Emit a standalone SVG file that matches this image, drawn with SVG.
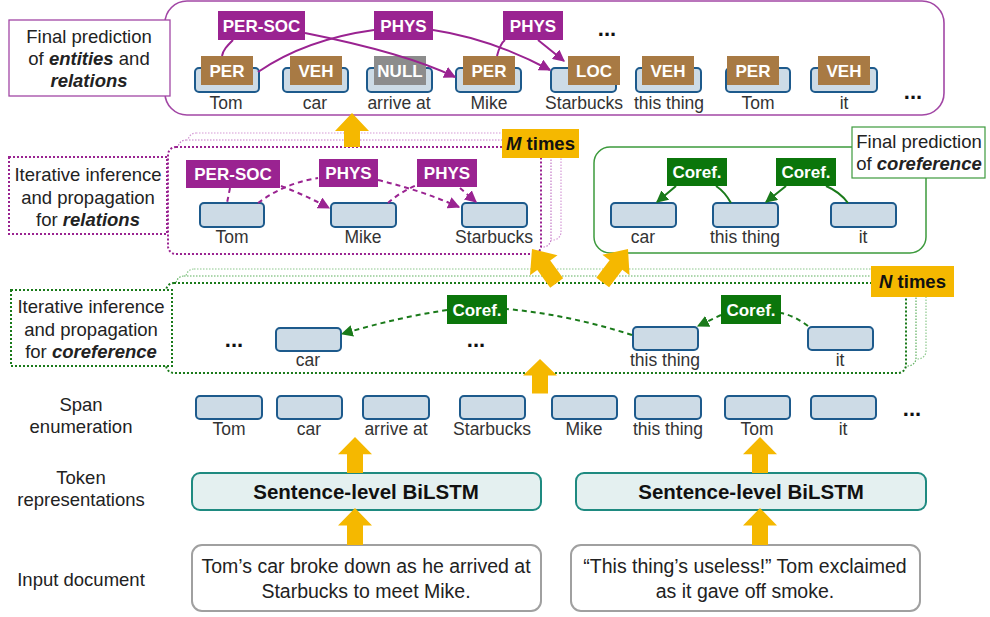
<svg xmlns="http://www.w3.org/2000/svg" width="990" height="617" viewBox="0 0 990 617">
<defs>
<style>
text{font-family:"Liberation Sans",Arial,sans-serif;fill:#222}
.lbl{font-size:18.5px;text-anchor:middle}
.sp{font-size:17.5px;text-anchor:middle;fill:#333}
.tag{font-size:17px;font-weight:bold;fill:#fff;text-anchor:middle}
.box{fill:#CDDBE6;stroke:#1D5A8C;stroke-width:2}
.rel{fill:#9A2391}
.ent{fill:#A87A44}
.cor{fill:#0B760B}
.yl{fill:#F5B800}
.dots{font-size:22px;font-weight:bold;fill:#111;text-anchor:middle}
.pl{fill:none;stroke:#9A2391;stroke-width:2}
.pd{fill:none;stroke:#9A2391;stroke-width:2;stroke-dasharray:5 4}
.gl{fill:none;stroke:#1A7A1A;stroke-width:2}
.gd{fill:none;stroke:#1A7A1A;stroke-width:2;stroke-dasharray:5 4}
.times{font-size:18.5px;font-weight:bold;text-anchor:middle;fill:#111}
.inp{font-size:19.5px;text-anchor:middle}
.bil{font-size:20.5px;font-weight:bold;text-anchor:middle;fill:#111}
</style>
<marker id="ap" viewBox="0 0 10 10" refX="9" refY="5" markerWidth="12" markerHeight="12" markerUnits="userSpaceOnUse" orient="auto"><path d="M0,0 L10,5 L0,10 Z" fill="#9A2391"/></marker>
<marker id="ag" viewBox="0 0 10 10" refX="9" refY="5" markerWidth="12" markerHeight="12" markerUnits="userSpaceOnUse" orient="auto"><path d="M0,0 L10,5 L0,10 Z" fill="#1A7A1A"/></marker>
<path id="ya" d="M0,0 L17,20 L8,20 L8,42 L-8,42 L-8,20 L-17,20 Z"/>
</defs>
<rect width="990" height="617" fill="#fff"/>

<!-- Top panel -->
<g id="top-panel">
<rect x="165" y="1" width="779" height="114" rx="22" fill="#fff" stroke="#A247A5" stroke-width="1.6"/>
</g>
<g id="top-label">
<rect x="9" y="20" width="161" height="76" fill="#fff" stroke="#A247A5" stroke-width="1.3"/>
<text class="lbl" x="89" y="43">Final prediction</text>
<text class="lbl" x="89" y="65">of <tspan font-weight="bold" font-style="italic">entities</tspan> and</text>
<text class="lbl" x="89" y="87" font-weight="bold" font-style="italic">relations</text>
</g>

<g id="top-spans">
<rect class="box" x="195" y="68" width="64" height="24" rx="4"/>
<rect class="box" x="283" y="68" width="65" height="24" rx="4"/>
<rect class="box" x="367" y="68" width="65" height="24" rx="4"/>
<rect class="box" x="456" y="68" width="65" height="24" rx="4"/>
<rect class="box" x="551" y="68" width="65" height="24" rx="4"/>
<rect class="box" x="636" y="68" width="65" height="24" rx="4"/>
<rect class="box" x="726" y="68" width="64" height="24" rx="4"/>
<rect class="box" x="811" y="68" width="66" height="24" rx="4"/>
<text class="sp" x="226" y="109">Tom</text>
<text class="sp" x="315" y="109">car</text>
<text class="sp" x="399" y="109">arrive at</text>
<text class="sp" x="489" y="109">Mike</text>
<text class="sp" x="584" y="109">Starbucks</text>
<text class="sp" x="669" y="109">this thing</text>
<text class="sp" x="758" y="109">Tom</text>
<text class="sp" x="844" y="109">it</text>
<text class="dots" x="607" y="36">...</text>
<text class="dots" x="913" y="99">...</text>
</g>
<g id="top-entities">
<rect class="ent" x="201" y="56" width="52" height="29"/><text class="tag" x="227" y="77">PER</text>
<rect class="ent" x="290" y="56" width="52" height="29"/><text class="tag" x="316" y="77">VEH</text>
<rect x="374" y="56" width="52" height="29" fill="#8C8C8C"/><text class="tag" x="400" y="77">NULL</text>
<rect class="ent" x="463" y="56" width="52" height="29"/><text class="tag" x="489" y="77">PER</text>
<rect class="ent" x="568" y="56" width="52" height="29"/><text class="tag" x="594" y="77">LOC</text>
<rect class="ent" x="642" y="56" width="52" height="29"/><text class="tag" x="668" y="77">VEH</text>
<rect class="ent" x="727" y="56" width="52" height="29"/><text class="tag" x="753" y="77">PER</text>
<rect class="ent" x="818" y="56" width="52" height="29"/><text class="tag" x="844" y="77">VEH</text>
</g>
<g id="top-connectors">
<path class="pl" d="M233,40 C227,46 223,50 222,56"/>
<path class="pl" d="M305,33 C360,44 420,60 455,77" marker-end="url(#ap)"/>
<path class="pl" d="M258,72 C290,50 330,36 374,30"/>
<path class="pl" d="M433,30 C480,37 520,54 550,70" marker-end="url(#ap)"/>
<path class="pl" d="M497,56 C499,48 501,43 505,40"/>
<path class="pl" d="M538,40 L564,61" marker-end="url(#ap)"/>
</g>
<g id="top-relations">
<rect class="rel" x="218" y="11" width="87" height="29"/><text class="tag" x="261.5" y="32">PER-SOC</text>
<rect class="rel" x="374" y="11" width="59" height="29"/><text class="tag" x="403.5" y="32">PHYS</text>
<rect class="rel" x="503" y="11" width="60" height="29"/><text class="tag" x="533" y="32">PHYS</text>
</g>

<!-- M times panel -->
<g id="relation-panel">
<rect x="188" y="133" width="373" height="107" rx="8" fill="#fff" stroke="#D59AD6" stroke-width="1.2" stroke-dasharray="1.5 1.5"/>
<rect x="178" y="140" width="373" height="107" rx="8" fill="#fff" stroke="#C47AC6" stroke-width="1.2" stroke-dasharray="1.5 1.5"/>
<rect x="168" y="147" width="373" height="107" rx="8" fill="#fff" stroke="#9A2391" stroke-width="2" stroke-dasharray="2 2"/>
<rect class="box" x="200" y="203" width="64" height="24" rx="4"/>
<rect class="box" x="331" y="203" width="65" height="24" rx="4"/>
<rect class="box" x="462" y="203" width="65" height="24" rx="4"/>
<text class="sp" x="232" y="243">Tom</text>
<text class="sp" x="363" y="243">Mike</text>
<text class="sp" x="494" y="243">Starbucks</text>
</g>
<g id="relation-connectors">
<path class="pd" d="M230,188 L227,203"/>
<path class="pd" d="M281,186 Q305,195 329,208" marker-end="url(#ap)"/>
<path class="pd" d="M258,203 Q285,183 318,178"/>
<path class="pd" d="M378,180 Q420,190 459,207" marker-end="url(#ap)"/>
<path class="pd" d="M388,203 Q400,192 417,185"/>
<path class="pd" d="M460,188 L476,202" marker-end="url(#ap)"/>
</g>
<g id="relation-tags">
<rect class="rel" x="186" y="160" width="94" height="28"/><text class="tag" x="233" y="180">PER-SOC</text>
<rect class="rel" x="319" y="159" width="59" height="28"/><text class="tag" x="348.5" y="179">PHYS</text>
<rect class="rel" x="417" y="159" width="60" height="28"/><text class="tag" x="447" y="179">PHYS</text>
</g>
<g id="m-times">
<rect class="yl" x="502" y="129" width="77" height="29"/>
<text class="times" x="540.5" y="150"><tspan font-style="italic">M</tspan> times</text>
</g>
<g id="relation-label">
<rect x="9" y="157" width="158" height="77" fill="#fff" stroke="#9A2391" stroke-width="2" stroke-dasharray="2 2"/>
<text class="lbl" x="88" y="181">Iterative inference</text>
<text class="lbl" x="88" y="204">and propagation</text>
<text class="lbl" x="88" y="226">for <tspan font-weight="bold" font-style="italic">relations</tspan></text>
</g>

<!-- Final coreference -->
<g id="coref-panel">
<rect x="594" y="147" width="332" height="106" rx="16" fill="#fff" stroke="#3C9A3C" stroke-width="1.5"/>
<rect class="box" x="611" y="203" width="65" height="24" rx="4"/>
<rect class="box" x="713" y="203" width="65" height="24" rx="4"/>
<rect class="box" x="831" y="203" width="65" height="24" rx="4"/>
<text class="sp" x="643" y="243">car</text>
<text class="sp" x="745" y="243">this thing</text>
<text class="sp" x="863" y="243">it</text>
</g>
<g id="coref-final-connectors">
<path class="gl" d="M676,186 L657,202" marker-end="url(#ag)"/>
<path class="gl" d="M731,203 Q725,192 716,186"/>
<path class="gl" d="M786,186 L766,202" marker-end="url(#ag)"/>
<path class="gl" d="M848,203 Q840,192 826,186"/>
</g>
<g id="coref-final-tags">
<rect class="cor" x="667" y="158" width="60" height="28"/><text class="tag" x="697" y="178">Coref.</text>
<rect class="cor" x="776" y="158" width="60" height="28"/><text class="tag" x="806" y="178">Coref.</text>
</g>
<g id="coref-final-label">
<rect x="852" y="127" width="133" height="51" fill="#fff" stroke="#3C9A3C" stroke-width="1.2"/>
<text class="lbl" x="919" y="148">Final prediction</text>
<text class="lbl" x="919" y="170">of <tspan font-weight="bold" font-style="italic">coreference</tspan></text>
</g>

<!-- N times panel -->
<g id="coref-iter-panel">
<rect x="186" y="269" width="740" height="90" rx="8" fill="#fff" stroke="#8CC88C" stroke-width="1.2" stroke-dasharray="1.5 1.5"/>
<rect x="176" y="276" width="740" height="90" rx="8" fill="#fff" stroke="#5EAF5E" stroke-width="1.2" stroke-dasharray="1.5 1.5"/>
<rect x="166" y="283" width="740" height="90" rx="8" fill="#fff" stroke="#1A7A1A" stroke-width="2" stroke-dasharray="2 2"/>
<rect class="box" x="276" y="328" width="65" height="23" rx="4"/>
<rect class="box" x="633" y="327" width="65" height="23" rx="4"/>
<rect class="box" x="808" y="327" width="65" height="23" rx="4"/>
<text class="sp" x="308" y="366">car</text>
<text class="sp" x="665" y="366">this thing</text>
<text class="sp" x="840" y="366">it</text>
<text class="dots" x="234" y="347">...</text>
<text class="dots" x="476" y="347">...</text>
</g>
<g id="coref-iter-connectors">
<path class="gd" d="M447,310 Q395,318 342,334" marker-end="url(#ag)"/>
<path class="gd" d="M632,335 Q570,315 507,309"/>
<path class="gd" d="M721,315 L698,326" marker-end="url(#ag)"/>
<path class="gd" d="M808,326 Q795,316 781,313"/>
</g>
<g id="coref-iter-tags">
<rect class="cor" x="447" y="295" width="60" height="29"/><text class="tag" x="477" y="316">Coref.</text>
<rect class="cor" x="721" y="295" width="60" height="29"/><text class="tag" x="751" y="316">Coref.</text>
</g>
<g id="n-times">
<rect class="yl" x="871" y="266" width="83" height="31"/>
<text class="times" x="912.5" y="288"><tspan font-style="italic">N</tspan> times</text>
</g>
<g id="coref-label">
<rect x="11" y="290" width="161" height="76" fill="#fff" stroke="#1A7A1A" stroke-width="2" stroke-dasharray="2 2"/>
<text class="lbl" x="91" y="313">Iterative inference</text>
<text class="lbl" x="91" y="336">and propagation</text>
<text class="lbl" x="91" y="358">for <tspan font-weight="bold" font-style="italic">coreference</tspan></text>
</g>

<!-- Span enumeration -->
<g id="span-row">
<rect class="box" x="196" y="396" width="66" height="23" rx="4"/>
<rect class="box" x="277" y="396" width="65" height="23" rx="4"/>
<rect class="box" x="363" y="396" width="66" height="23" rx="4"/>
<rect class="box" x="460" y="396" width="65" height="23" rx="4"/>
<rect class="box" x="552" y="396" width="65" height="23" rx="4"/>
<rect class="box" x="635" y="396" width="66" height="23" rx="4"/>
<rect class="box" x="725" y="396" width="65" height="23" rx="4"/>
<rect class="box" x="811" y="396" width="65" height="23" rx="4"/>
<text class="sp" x="229" y="435">Tom</text>
<text class="sp" x="309" y="435">car</text>
<text class="sp" x="396" y="435">arrive at</text>
<text class="sp" x="492" y="435">Starbucks</text>
<text class="sp" x="584" y="435">Mike</text>
<text class="sp" x="668" y="435">this thing</text>
<text class="sp" x="757" y="435">Tom</text>
<text class="sp" x="843" y="435">it</text>
<text class="dots" x="912" y="416">...</text>
</g>

<g id="bilstm-1">
<rect x="192" y="473" width="349" height="37" rx="8" fill="#E4F0F0" stroke="#1E8A80" stroke-width="2"/>
<text class="bil" x="366" y="499">Sentence-level BiLSTM</text>
</g>
<g id="bilstm-2">
<rect x="576" y="473" width="350" height="37" rx="8" fill="#E4F0F0" stroke="#1E8A80" stroke-width="2"/>
<text class="bil" x="751" y="499">Sentence-level BiLSTM</text>
</g>
<g id="input-1">
<rect x="192" y="545" width="349" height="66" rx="10" fill="#fff" stroke="#A0A0A0" stroke-width="2"/>
<text class="inp" x="366" y="573">Tom’s car broke down as he arrived at</text>
<text class="inp" x="366" y="598">Starbucks to meet Mike.</text>
</g>
<g id="input-2">
<rect x="571" y="545" width="349" height="66" rx="10" fill="#fff" stroke="#A0A0A0" stroke-width="2"/>
<text class="inp" x="745" y="573">“This thing’s useless!” Tom exclaimed</text>
<text class="inp" x="745" y="598">as it gave off smoke.</text>
</g>

<g id="row-labels">
<text class="lbl" x="81" y="411">Span</text>
<text class="lbl" x="81" y="433">enumeration</text>
<text class="lbl" x="81" y="484">Token</text>
<text class="lbl" x="81" y="506">representations</text>
<text class="lbl" x="81" y="586">Input document</text>
</g>

<g id="flow-arrows" class="yl">
<path d="M352,113 L369,131 L360,131 L360,147 L344,147 L344,131 L335,131 Z"/>
<use href="#ya" transform="translate(540,359) scale(1,0.82)"/>
<use href="#ya" transform="translate(532,249) rotate(-36)"/>
<use href="#ya" transform="translate(628,249) rotate(37)"/>
<use href="#ya" transform="translate(355,437) scale(1,0.86)"/>
<use href="#ya" transform="translate(355,508) scale(1,0.88)"/>
<use href="#ya" transform="translate(760,437) scale(1,0.86)"/>
<use href="#ya" transform="translate(760,508) scale(1,0.88)"/>
</g>
</svg>
